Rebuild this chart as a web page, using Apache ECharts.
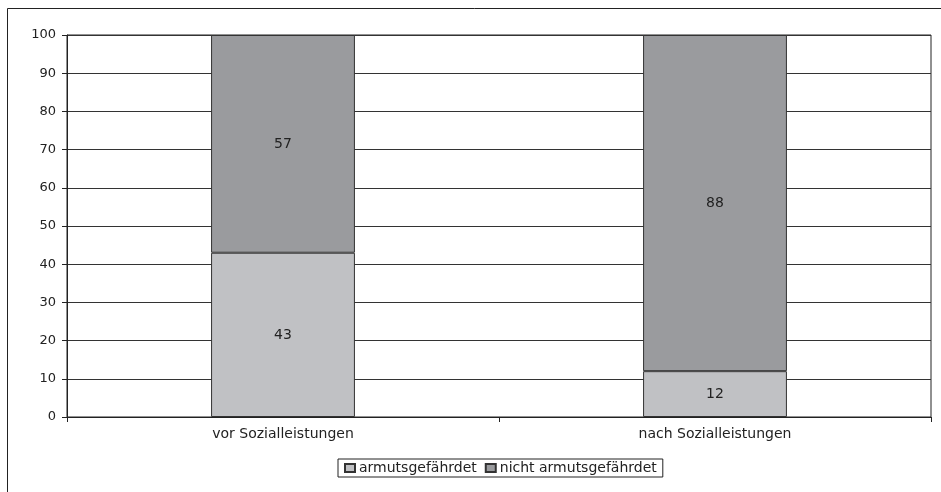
<!DOCTYPE html>
<html>
<head>
<meta charset="utf-8">
<script src="https://cdn.jsdelivr.net/npm/echarts@6/dist/echarts.min.js"></script>
<style>
  html, body { margin: 0; padding: 0; background: #fff; }
  #chart { width: 941px; height: 492px; }
</style>
</head>
<body>
<div id="chart"></div>
<script>
// Categories and shares (percent)
const categories = ['vor Sozialleistungen', 'nach Sozialleistungen'];
const armutsgefaehrdet = [43, 12];
const nichtArmutsgefaehrdet = [57, 88];
const seriesNames = ['armutsgefährdet', 'nicht armutsgefährdet'];
const yTicks = { min: 0, max: 100, interval: 10 };

const chart = echarts.init(document.getElementById('chart'));
const font = '"DejaVu Sans", Verdana, sans-serif';
const fs = 14;

const labelStyle = {
  show: true,
  position: 'inside',
  fontFamily: font,
  fontSize: fs,
  color: '#222'
};

chart.setOption({
  animation: false,
  backgroundColor: '#fff',
  graphic: [{
    type: 'rect',
    shape: { x: 7.5, y: 8.5, width: 950, height: 500 },
    style: { fill: 'none', stroke: '#222', lineWidth: 1 },
    silent: true
  }],
  grid: {
    left: 67, right: 10, top: 35, bottom: 75,
    show: true, borderColor: '#222', borderWidth: 1, backgroundColor: 'transparent'
  },
  legend: {
    bottom: 15,
    left: 338,
    data: seriesNames,
    itemWidth: 10, itemHeight: 8, itemGap: 8,
    padding: [2, 6, 2, 6],
    borderColor: '#222', borderWidth: 1,
    icon: 'rect',
    textStyle: { fontFamily: font, fontSize: fs, color: '#222', padding: [0, 0, 0, -1] }
  },
  xAxis: {
    type: 'category',
    data: categories,
    axisLine: { lineStyle: { color: '#222' } },
    axisTick: { show: true, length: 5, lineStyle: { color: '#222' } },
    axisLabel: { fontFamily: font, fontSize: fs, color: '#222', margin: 10 }
  },
  yAxis: {
    type: 'value',
    min: yTicks.min, max: yTicks.max, interval: yTicks.interval,
    axisLine: { show: true, lineStyle: { color: '#222' } },
    axisTick: { show: true, length: 5, lineStyle: { color: '#222' } },
    axisLabel: { fontFamily: font, fontSize: 13, color: '#222', margin: 11 },
    splitLine: { show: true, lineStyle: { color: '#333', width: 1 } }
  },
  series: [
    {
      name: seriesNames[0],
      type: 'bar',
      stack: 'total',
      data: armutsgefaehrdet,
      barWidth: '33.3%',
      itemStyle: { color: '#c0c1c4', borderColor: '#333', borderWidth: 1 },
      label: labelStyle
    },
    {
      name: seriesNames[1],
      type: 'bar',
      stack: 'total',
      data: nichtArmutsgefaehrdet,
      barWidth: '33.3%',
      itemStyle: { color: '#9a9b9e', borderColor: '#333', borderWidth: 1 },
      label: labelStyle
    }
  ]
});
</script>
</body>
</html>
